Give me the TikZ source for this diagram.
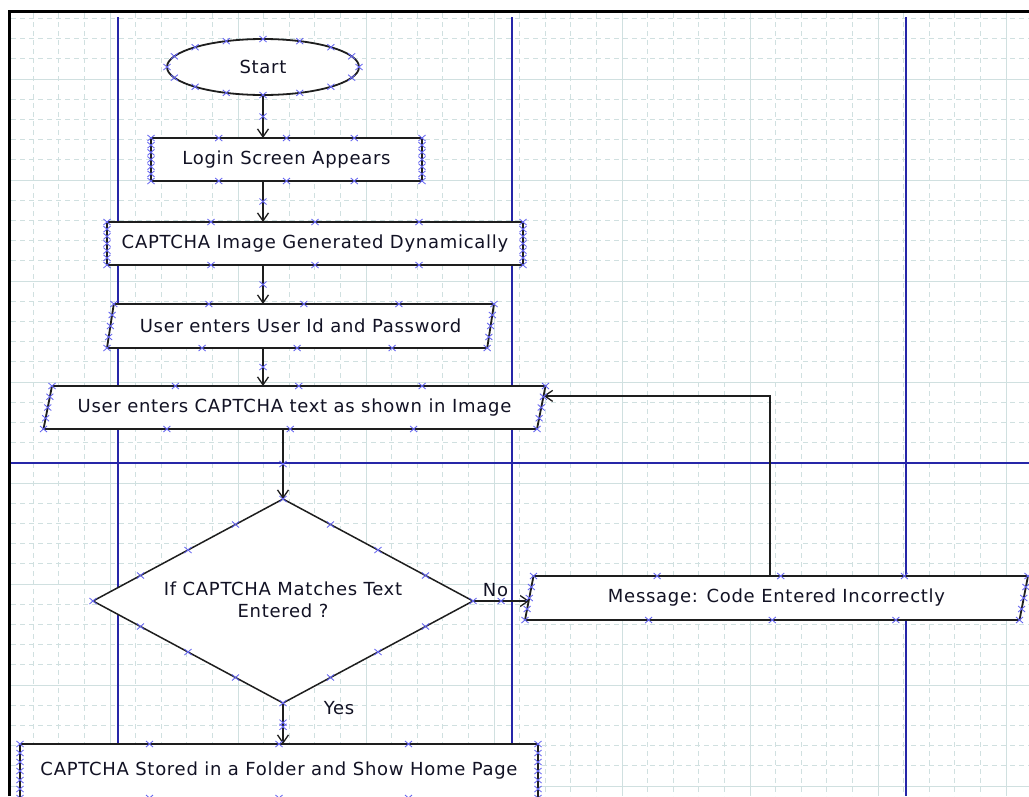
\documentclass[tikz,border=0pt]{standalone}
\usepackage{fontspec}
\setmainfont[LetterSpace=4]{DejaVu Sans}
\usetikzlibrary{shapes.geometric,arrows.meta,calc}
\definecolor{gridc}{RGB}{208,224,224}
\definecolor{lanec}{RGB}{38,38,168}
\definecolor{mkc}{RGB}{100,100,240}
\definecolor{inkc}{RGB}{30,30,30}
\definecolor{txtc}{RGB}{18,18,36}
\newcommand\xmk[1]{\draw[xm] #1 ++(-3.5,-3) -- ++(7,6) ++(-7,0) -- ++(7,-6);}
\tikzset{
  gridmaj/.style={gridc, line width=1pt},
  gridmin/.style={gridc, line width=1pt, dash pattern=on 5pt off 4pt},
  lane/.style={lanec, line width=2.2pt},
  xm/.style={mkc, line width=0.85pt},
  txt/.style={text=txtc, font=\fontsize{18}{22}\selectfont},
  box/.style={txt, draw=inkc, line width=1.8pt, fill=white, rectangle, inner sep=0pt, outer sep=0pt},
  para/.style={txt, draw=inkc, line width=1.8pt, fill=white, trapezium, trapezium left angle=64, trapezium right angle=116, trapezium stretches body, inner sep=0pt, outer sep=0pt},
  term/.style={txt, draw=inkc, line width=1.8pt, fill=white, ellipse, inner sep=0pt, outer sep=0pt},
  dec/.style={txt, draw=inkc, line width=1.5pt, fill=white, diamond, inner sep=0pt, outer sep=0pt},
  conn/.style={inkc, line width=1.5pt, -{Straight Barb[length=8pt,width=11pt,line width=1.3pt]}},
  lbl/.style={txt, inner sep=0pt}
}
\begin{document}
\begin{tikzpicture}[x=1pt,y=-1pt]
\useasboundingbox (0,0) rectangle (1029,796);
\fill[white] (0,0) rectangle (1029,796);
% grid
\begin{scope}
\clip (11,13) rectangle (1029,796);
\foreach \i in {-4,...,36}{
  \pgfmathsetmacro\xx{110+25.6*\i}
  \pgfmathtruncatemacro\m{mod(\i+100,5)}
  \ifnum\m=0 \draw[gridmaj] (\xx,13) -- (\xx,796);
  \else \draw[gridmin] (\xx,13) -- (\xx,796); \fi
}
\foreach \j in {-3,...,36}{
  \pgfmathsetmacro\yy{79+20.2*\j}
  \pgfmathtruncatemacro\m{mod(\j+100,5)}
  \ifnum\m=0 \draw[gridmaj] (11,\yy) -- (1029,\yy);
  \else \draw[gridmin] (11,\yy) -- (1029,\yy); \fi
}
\end{scope}
% swimlane lines
\draw[lane] (118,17) -- (118,796);
\draw[lane] (512,17) -- (512,796);
\draw[lane] (906,17) -- (906,796);
\draw[lane] (11,463) -- (1029,463);
% window frame
\draw[black, line width=3pt] (9.5,796) -- (9.5,11.5) -- (1029,11.5);
% nodes
\node[term, minimum width=192pt, minimum height=56pt] (start) at (263,67) {Start};
\node[box, minimum width=271pt, minimum height=43pt] (login) at (286.5,159.5) {Login Screen Appears};
\node[box, minimum width=416pt, minimum height=43pt] (cimg) at (315,243.5) {CAPTCHA Image Generated Dynamically};
\node[para, minimum width=387pt, minimum height=44pt] (p1) at (300.5,326) {User enters User Id and Password};
\node[para, minimum width=502pt, minimum height=43pt] (p2) at (294.5,407.5) {User enters CAPTCHA text as shown in Image};
\node[dec, minimum width=380pt, minimum height=204pt] (dec) at (283,601) {};
\node[lbl, align=center] (dect) at (283,600) {If CAPTCHA Matches Text\\Entered ?};
\node[para, minimum width=503pt, minimum height=44pt] (msg) at (776.5,598) {Message: Code Entered Incorrectly};
\begin{scope}
\clip (11,13) rectangle (1029,796);
\node[box, minimum width=518pt, minimum height=54pt] (final) at (279,771) {CAPTCHA Stored in a Folder and Show Home Page};
\end{scope}
% connectors
\draw[conn] (start.south) -- (start.south |- login.north);
\draw[conn] (start.south |- login.south) -- (start.south |- cimg.north);
\draw[conn] (start.south |- cimg.south) -- (start.south |- p1.north);
\draw[conn] (start.south |- p1.south) -- (start.south |- p2.north);
\draw[conn] (dec.north |- p2.south) -- (dec.north);
\draw[conn] (dec.south) -- node[lbl, pos=0.12, anchor=west, xshift=40pt] (yes) {Yes} (dec.south |- final.north);
\draw[conn] (dec.east) -- node[lbl, pos=0.4, anchor=south, yshift=4pt] (no) {No} (dec.east -| msg.west);
\coordinate (retA) at ($(msg.top left corner)!0.478!(msg.top right corner)$);
\coordinate (retB) at ($(p2.top right corner)!0.23!(p2.bottom right corner)$);
\draw[conn] (retA) |- (retB);
% connection markers
\foreach \a in {0,22.5,...,337.5}{ \xmk{($(start.center)+({96*cos(\a)},{28*sin(\a)})$)} }
\foreach \n in {login,cimg,final}{
  \foreach \t in {0,0.25,0.5,0.75,1}{
    \xmk{($(\n.north west)!\t!(\n.north east)$)}
    \xmk{($(\n.south west)!\t!(\n.south east)$)}
  }
  \foreach \t in {0.1667,0.3333,0.5,0.6667,0.8333}{
    \xmk{($(\n.north west)!\t!(\n.south west)$)}
    \xmk{($(\n.north east)!\t!(\n.south east)$)}
  }
}
\foreach \n in {p1,p2,msg}{
  \foreach \t in {0,0.25,0.5,0.75,1}{
    \xmk{($(\n.top left corner)!\t!(\n.top right corner)$)}
    \xmk{($(\n.bottom left corner)!\t!(\n.bottom right corner)$)}
  }
  \foreach \t in {0.25,0.5,0.75}{
    \xmk{($(\n.top left corner)!\t!(\n.bottom left corner)$)}
    \xmk{($(\n.top right corner)!\t!(\n.bottom right corner)$)}
  }
}
\foreach \t in {0,0.25,0.5,0.75}{
  \xmk{($(dec.north)!\t!(dec.west)$)}
  \xmk{($(dec.west)!\t!(dec.south)$)}
  \xmk{($(dec.south)!\t!(dec.east)$)}
  \xmk{($(dec.east)!\t!(dec.north)$)}
}
\xmk{($(start.south)!0.5!(start.south |- login.north)$)}
\xmk{($(start.south |- login.south)!0.5!(start.south |- cimg.north)$)}
\xmk{($(start.south |- cimg.south)!0.5!(start.south |- p1.north)$)}
\xmk{($(start.south |- p1.south)!0.5!(start.south |- p2.north)$)}
\xmk{($(dec.north |- p2.south)!0.5!(dec.north)$)}
\xmk{($(dec.south)!0.48!(dec.south |- final.north)$)}
\xmk{($(dec.south)!0.58!(dec.south |- final.north)$)}
\xmk{($(dec.east)!0.5!(dec.east -| msg.west)$)}
\end{tikzpicture}
\end{document}
